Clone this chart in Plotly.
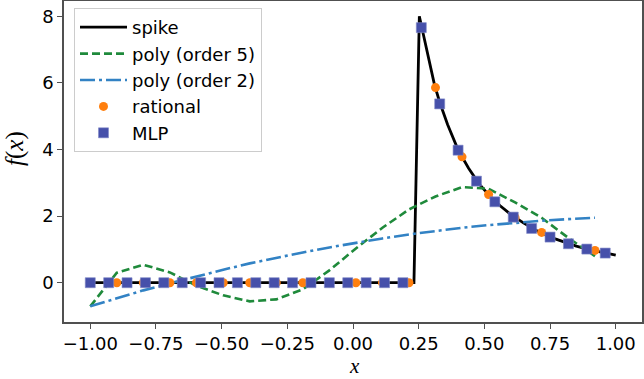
import plotly.graph_objects as go

# ---- data ----
spike_x = [-1.0, 0.232, 0.2525, 0.27, 0.29, 0.31, 0.33, 0.36, 0.40, 0.44, 0.48,
           0.52, 0.56, 0.60, 0.65, 0.70, 0.75, 0.80, 0.85, 0.90, 0.95, 1.0]
spike_y = [0.0, 0.0, 8.0, 7.35, 6.61, 5.95, 5.42, 4.75, 3.99, 3.44, 2.97,
           2.61, 2.31, 2.05, 1.79, 1.56, 1.37, 1.23, 1.10, 0.99, 0.91, 0.83]

fit_x = [-1.0, -0.899, -0.798, -0.697, -0.596, -0.494, -0.393, -0.292, -0.191, -0.090,
         0.011, 0.112, 0.213, 0.314, 0.415, 0.516, 0.617, 0.718, 0.819, 0.921]
poly5_y = [-0.71, 0.30, 0.54, 0.31, -0.09, -0.38, -0.56, -0.50, -0.20, 0.37,
           1.03, 1.65, 2.20, 2.59, 2.87, 2.82, 2.41, 1.95, 1.35, 0.80]
poly2_y = [-0.71, -0.47, -0.23, -0.02, 0.19, 0.39, 0.58, 0.75, 0.91, 1.06,
           1.20, 1.33, 1.45, 1.56, 1.65, 1.73, 1.80, 1.86, 1.91, 1.95]
rational_y = [0.0, 0.0, 0.0, 0.0, 0.0, 0.0, 0.0, 0.0, 0.0, 0.0,
              0.0, 0.0, 0.0, 5.86, 3.78, 2.65, 1.95, 1.51, 1.17, 0.97]

mlp_x = [-1.00, -0.93, -0.86, -0.79, -0.72, -0.65, -0.58, -0.51, -0.44, -0.37,
         -0.30, -0.23, -0.16, -0.09, -0.02, 0.05, 0.12, 0.19, 0.26, 0.33,
         0.40, 0.47, 0.54, 0.61, 0.68, 0.75, 0.82, 0.89, 0.96]
mlp_y = [0.0] * 18 + [7.66, 5.37, 3.98, 3.05, 2.43, 1.97, 1.63, 1.37, 1.17, 1.01, 0.89]

x_ticks = [-1.0, -0.75, -0.5, -0.25, 0.0, 0.25, 0.5, 0.75, 1.0]
y_ticks = [0, 2, 4, 6, 8]

# ---- figure ----
W, H = 644, 379
L, R, T, B = 64, 642, 1, 322

def px_x(p):
    return (p - L) / (R - L)

def px_y(p):
    return (B - p) / (B - T)

fig = go.Figure()
fig.add_trace(go.Scatter(x=spike_x, y=spike_y, mode="lines", name="spike",
                         line=dict(color="black", width=2.8)))
fig.add_trace(go.Scatter(x=fit_x, y=poly5_y, mode="lines", name="poly (order 5)",
                         line=dict(color="#1f8a3b", width=2.6, dash="8px,4px")))
fig.add_trace(go.Scatter(x=fit_x, y=poly2_y, mode="lines", name="poly (order 2)",
                         line=dict(color="#3282c4", width=2.6, dash="15px,4px,3px,4px")))
fig.add_trace(go.Scatter(x=fit_x, y=rational_y, mode="markers", name="rational",
                         marker=dict(symbol="circle", size=9, color="#ff7f0e",
                                     line=dict(width=0))))
fig.add_trace(go.Scatter(x=mlp_x, y=mlp_y, mode="markers", name="MLP",
                         marker=dict(symbol="square", size=10, color="#4650aa",
                                     line=dict(width=0.6, color="#8088c8"))))

axis_common = dict(showline=True, mirror=True, linecolor="#505050", linewidth=1.5,
                   ticks="outside", ticklen=5, tickwidth=1.3, tickcolor="#505050",
                   showgrid=False, zeroline=False, automargin=False,
                   tickfont=dict(family="DejaVu Sans", size=18, color="black"))

fig.update_xaxes(range=[-1.1, 1.1], tickvals=x_ticks, tickformat=".2f", **axis_common)
fig.update_yaxes(range=[-1.18, 8.46], tickvals=y_ticks, **axis_common)

fig.add_annotation(text="<i>x</i>", xref="paper", yref="paper",
                   x=px_x(354), y=px_y(379), xanchor="center", yanchor="bottom",
                   borderpad=0, showarrow=False,
                   font=dict(family="Liberation Serif", size=21, color="black"))
fig.add_annotation(text="<i>f</i>(<i>x</i>)", xref="paper", yref="paper",
                   x=px_x(15), y=px_y(149), xanchor="center", yanchor="middle",
                   textangle=-90, showarrow=False,
                   font=dict(family="Liberation Serif", size=25, color="black"))

fig.update_layout(
    width=W, height=H,
    margin=dict(l=L, r=W - R, t=T, b=H - B, autoexpand=False),
    plot_bgcolor="white", paper_bgcolor="white",
    showlegend=True,
    legend=dict(x=px_x(74), y=px_y(8), xanchor="left", yanchor="top",
                bgcolor="rgba(255,255,255,0.8)", bordercolor="#cccccc", borderwidth=1,
                font=dict(family="DejaVu Sans", size=18, color="black"),
                itemwidth=47, tracegroupgap=0),
)

fig.write_html("out.html", config={"displayModeBar": False},
               post_script="document.body.style.margin='0';document.body.style.overflow='hidden';")
